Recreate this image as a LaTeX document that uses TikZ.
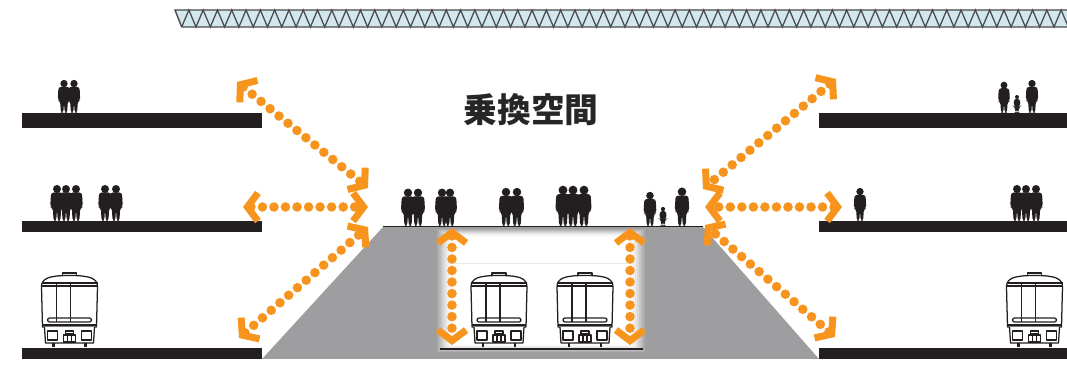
\documentclass[tikz,border=0pt]{standalone}
\usepackage{fontspec}
\usepackage{xcolor}
\newfontfamily\jpfont{Noto Sans CJK JP}
\usetikzlibrary{
  arrows.meta,
  positioning,
  calc}
\definecolor{transfer}{HTML}{F7941D}
\definecolor{slab}{HTML}{231F20}
\definecolor{concrete}{HTML}{9E9EA0}
\definecolor{truss}{HTML}{D2E7EE}
\definecolor{trussline}{HTML}{4A4A4A}
\tikzset{
  floor/.style={fill=slab},
  route/.style={transfer, line width=6.8pt, line cap=round, dash pattern=on 0pt off 8.2pt,
    >={Straight Barb[sharp, length=7.5pt, width=20pt, line width=5pt]}, <->},
  person/.pic={
    \fill[slab] (0,-32) circle (4);
    \fill[slab, rounded corners=2] (-6,-28.5) -- (6,-28.5) -- (6.8,-14) -- (4.2,-13) -- (3.4,0) -- (0.8,0)
      -- (0,-11) -- (-0.8,0) -- (-3.4,0) -- (-4.2,-13) -- (-6.8,-14) -- cycle;
  },
  train/.pic={
    \begin{scope}[draw=slab, line width=0.9pt, line join=round]
      \draw[fill=white] (-7,-74) rectangle (7,-71.5);
      \draw[fill=white] (-27,-20) -- (-28,-60) .. controls (-28,-69) and (-20,-71.5) .. (0,-71.5)
        .. controls (20,-71.5) and (28,-69) .. (28,-60) -- (27,-20) -- cycle;
      \draw (-28,-64) -- (28,-64);
      \draw (-28,-61) -- (28,-61);
      \draw (-13,-64) -- (-13,-25);
      \draw (1,-64) -- (1,-25);
      \draw[rounded corners=1.5] (-22,-29) rectangle (22,-25);
      \draw (-27,-22) -- (27,-22);
      \draw[fill=white] (-25,-20) -- (-24,-4) -- (24,-4) -- (25,-20);
      \draw (-22,-16) rectangle (-12,-7);
      \draw (12,-16) rectangle (22,-7);
      \draw (-6,-12) rectangle (6,-5);
      \draw (-2,-12) -- (-2,-5);
      \draw (2,-12) -- (2,-5);
      \draw (-4,-16) rectangle (4,-13);
      \draw[line width=1.5pt] (-16,-4) -- (-16,0);
      \draw[line width=1.5pt] (16,-4) -- (16,0);
    \end{scope}
  }
}

\begin{document}
\begin{tikzpicture}[x=0.025cm, y=-0.025cm]
\useasboundingbox (0,0) rectangle (1067,366);

\begin{scope}
\clip (0,0) rectangle (1067,366);
\fill[truss] (175,10) -- (1067,10) -- (1067,27) -- (181.7,27) -- cycle;
\draw[trussline, line width=0.9pt] (181.7,27) \foreach \i in {0,...,62} { -- ++(7.15,-17) -- ++(7.15,17) };
\draw[trussline, line width=1pt] (181.7,27) -- (175,10) -- (1067,10) (181.7,27) -- (1067,27);
\end{scope}

\node[font=\jpfont\bfseries\fontsize{24}{24}\selectfont, text=black!85] (title) at (531,110) {乗換空間};

\fill[floor] (22,113) rectangle (262,128);
\fill[floor] (22,221) rectangle (262,232);
\fill[floor] (22,348) rectangle (262,359);
\fill[floor] (819,113) rectangle (1067,128);
\fill[floor] (819,221) rectangle (1067,232);
\fill[floor] (819,348) rectangle (1067,359);

\fill[concrete] (262,359) -- (383,227) -- (703,227) -- (819,359) -- cycle;
\draw[slab, line width=1.4pt] (383,226.5) -- (703,226.5);

\foreach \k/\c in {0/33,1/27,2/21,3/15,4/10,5/6,6/3,7/1}
  \fill[black!\c] (437+2*\k,229+\k) rectangle (645-2*\k,352-\k);
\fill[white] (453,237) rectangle (629,345);
\draw[black!8, line width=0.6pt] (445,263) -- (637,263);
\draw[slab, line width=1.1pt] (440,349) -- (643,349);

\pic at (499,347) {train};
\pic at (585,347) {train};
\pic at (69.5,347) {train};
\pic at (1034.5,347) {train};

\pic[scale=0.92] at (64,113) {person};
\pic[scale=0.92] at (74,113) {person};
\pic at (57,221) {person};
\pic at (66,221) {person};
\pic at (76,221) {person};
\pic at (105,221) {person};
\pic at (116,221) {person};
\pic[scale=1.04] at (408,226) {person};
\pic[scale=1.04] at (418,226) {person};
\pic[scale=1.04] at (442,226) {person};
\pic[scale=1.04] at (450,226) {person};
\pic[scale=1.06] at (506,226) {person};
\pic[scale=1.06] at (517,226) {person};
\pic[scale=1.12] at (563,226) {person};
\pic[scale=1.12] at (573,226) {person};
\pic[scale=1.12] at (584,226) {person};
\pic[scale=0.95] at (650,226) {person};
\pic[scale=0.53] at (663,226) {person};
\pic[scale=1.07] at (682,226) {person};
\pic[scale=0.87] at (1004,113) {person};
\pic[scale=0.5] at (1017,113) {person};
\pic[scale=0.92] at (1032,113) {person};
\pic[scale=0.92] at (860,221) {person};
\pic at (1017,221) {person};
\pic at (1026,221) {person};
\pic at (1036,221) {person};

\coordinate (upperL) at (237,82);
\coordinate (hubLa) at (368,188);
\coordinate (midL) at (243,207);
\coordinate (hubLb) at (368,207);
\coordinate (lowerL) at (239,338);
\coordinate (hubLc) at (368,227);
\coordinate (upperR) at (836,79);
\coordinate (hubRa) at (703,189);
\coordinate (midR) at (842,207);
\coordinate (hubRb) at (705,207);
\coordinate (lowerR) at (835,337);
\coordinate (hubRc) at (705,225);
\coordinate (gateL) at (452,228);
\coordinate (trackL) at (452,345);
\coordinate (gateR) at (630,228);
\coordinate (trackR) at (630,345);

\draw[route] (upperL) -- (hubLa);
\draw[route] (midL) -- (hubLb);
\draw[route] (lowerL) -- (hubLc);
\draw[route] (upperR) -- (hubRa);
\draw[route] (midR) -- (hubRb);
\draw[route] (lowerR) -- (hubRc);
\draw[route] (gateL) -- (trackL);
\draw[route] (gateR) -- (trackR);
\end{tikzpicture}
\end{document}
